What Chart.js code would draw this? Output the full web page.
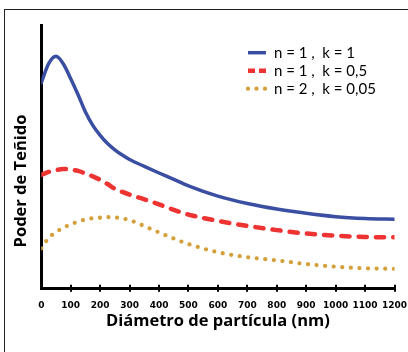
<!DOCTYPE html>
<html>
<head>
<meta charset="utf-8">
<script src="https://cdn.jsdelivr.net/npm/chart.js@4.4.1/dist/chart.umd.min.js"></script>
<style>
  html, body { margin: 0; padding: 0; background: #fff; }
  #wrap { position: relative; width: 408px; height: 352px; overflow: hidden; }
  #frame { position: absolute; left: 4px; top: 9px; width: 440px; height: 380px; border: 1.5px solid #222; }
  canvas { position: absolute; left: 0; top: 0; }
</style>
</head>
<body>
<div id="wrap"><div id="frame"></div><canvas id="chart" width="408" height="352"></canvas></div>
<script>
// particle diameter (nm)
const diameters = [0, 25, 50, 75, 100, 125, 150, 175, 200, 225, 250, 275, 300, 350, 400, 450, 500, 600, 700, 800, 900, 1000, 1100, 1200];
// tinting strength (arbitrary units)
const n1k1   = [78.1, 85.3, 88.1, 85.2, 79.6, 73.5, 67.0, 61.9, 58.1, 55.0, 52.6, 50.6, 48.9, 46.3, 43.8, 41.4, 38.9, 35.0, 32.2, 30.1, 28.5, 27.2, 26.5, 26.2];
const n1k05  = [43.1, 44.2, 44.9, 45.3, 45.1, 44.6, 43.6, 42.5, 41.2, 39.6, 37.8, 36.6, 35.6, 33.8, 31.9, 29.8, 28.0, 25.6, 23.7, 22.1, 20.8, 20.0, 19.5, 19.4];
const n2k005 = [15.2, 19.1, 21.3, 23.0, 24.3, 25.3, 26.1, 26.6, 26.8, 27.0, 26.9, 26.5, 25.9, 23.6, 21.2, 18.9, 16.8, 13.7, 11.8, 10.6, 9.2, 8.2, 7.6, 7.4];
const seriesLabels = ['n = 1 ,  k = 1', 'n = 1 ,  k = 0,5', 'n = 2 ,  k = 0,05'];
const xTitle = 'Diámetro de partícula (nm)';
const yTitle = 'Poder de Teñido';

const pts = vals => vals.map((v, i) => ({ x: diameters[i], y: v }));

// legend drawn inside the plot, top right
const insideLegend = {
  id: 'insideLegend',
  afterDatasetsDraw(chart) {
    const ctx = chart.ctx;
    ctx.save();
    chart.data.datasets.forEach((ds, i) => {
      const y = 52.7 + i * 18;
      ctx.beginPath();
      ctx.strokeStyle = ds.borderColor;
      ctx.lineWidth = ds.borderWidth;
      ctx.lineCap = ds.legendCap;
      ctx.setLineDash(ds.legendDash);
      ctx.moveTo(248, y);
      ctx.lineTo(266, y);
      ctx.stroke();
      ctx.setLineDash([]);
      ctx.fillStyle = '#000';
      ctx.font = '15px Lato';
      ctx.textBaseline = 'middle';
      ctx.textAlign = 'left';
      ctx.fillText(ds.label, 274, y + 0.5);
    });
    ctx.restore();
  }
};

// tick marks crossing the x axis + rotated y title
const axisExtras = {
  id: 'axisExtras',
  afterDraw(chart) {
    const ctx = chart.ctx;
    const xs = chart.scales.x;
    const yb = chart.chartArea.bottom;
    ctx.save();
    ctx.strokeStyle = '#000';
    ctx.lineWidth = 2;
    xs.ticks.forEach(t => {
      if (t.value === 0) return;
      const px = Math.round(xs.getPixelForValue(t.value));
      ctx.beginPath();
      ctx.moveTo(px, yb - 3.5);
      ctx.lineTo(px, yb + 3.5);
      ctx.stroke();
    });
    ctx.translate(21, 181);
    ctx.rotate(-Math.PI / 2);
    ctx.fillStyle = '#000';
    ctx.font = 'bold 16.5px "Open Sans"';
    ctx.textAlign = 'center';
    ctx.textBaseline = 'middle';
    ctx.fillText(yTitle, 0, 0);
    ctx.restore();
  }
};

new Chart(document.getElementById('chart'), {
  type: 'line',
  data: {
    datasets: [
      { label: seriesLabels[0], data: pts(n1k1), borderColor: '#3a4ea2', borderWidth: 3.5,
        borderCapStyle: 'round', legendDash: [], legendCap: 'butt' },
      { label: seriesLabels[1], data: pts(n1k05), borderColor: '#ee3333', borderWidth: 4.5,
        borderDash: [8.2, 9.1], borderCapStyle: 'round', legendDash: [7, 4], legendCap: 'butt' },
      { label: seriesLabels[2], data: pts(n2k005), borderColor: '#d4a03a', borderWidth: 4.3,
        borderDash: [0, 8.6], borderCapStyle: 'round', legendDash: [0, 8.5], legendCap: 'round' }
    ]
  },
  options: {
    responsive: false,
    animation: false,
    layout: { padding: { left: 41.3, right: 13.5, top: 25, bottom: 0 } },
    elements: { point: { radius: 0 }, line: { cubicInterpolationMode: 'monotone', fill: false } },
    plugins: { legend: { display: false }, tooltip: { enabled: false } },
    scales: {
      x: {
        type: 'linear', min: 0, max: 1200,
        grid: { display: false },
        border: { display: true, color: '#000', width: 3 },
        ticks: { stepSize: 100, autoSkip: false, maxRotation: 0, color: '#000', padding: 4,
                 callback: v => String(v),
                 font: { family: 'DejaVu Sans', weight: 'bold', size: 9 } },
        title: { display: true, text: xTitle, color: '#000', padding: { top: 0, bottom: 21 },
                 font: { family: 'Open Sans', weight: 'bold', size: 16.5 } },
        afterFit(s) { s.height = 63.7; s.paddingLeft = 0; s.paddingRight = 0; }
      },
      y: {
        min: 0, max: 100,
        grid: { display: false },
        border: { display: true, color: '#000', width: 3 },
        ticks: { display: false },
        afterFit(s) { s.width = 0; }
      }
    }
  },
  plugins: [insideLegend, axisExtras]
});
</script>
</body>
</html>
